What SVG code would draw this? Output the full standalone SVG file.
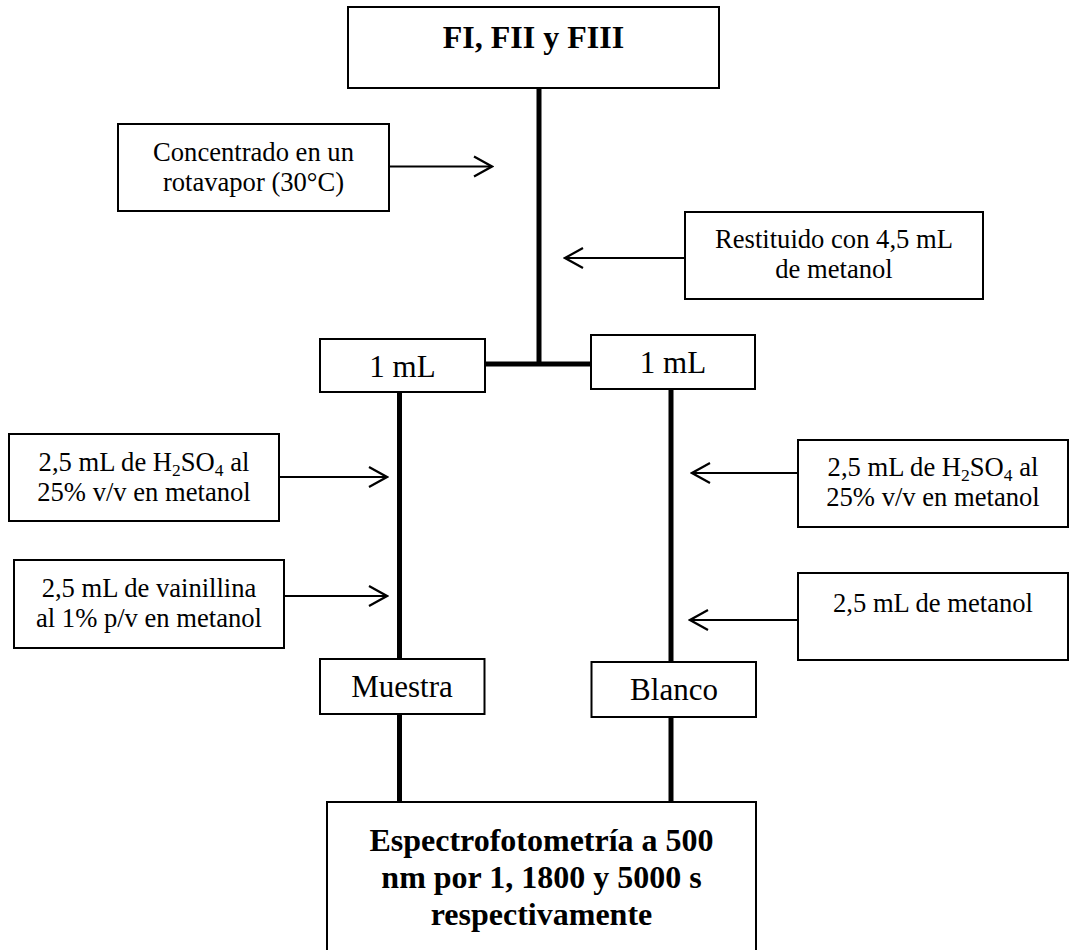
<svg xmlns="http://www.w3.org/2000/svg" width="1071" height="950" viewBox="0 0 1071 950">
<defs>
<marker id="arr" viewBox="0 0 22 24" refX="20" refY="12" markerWidth="22" markerHeight="24" markerUnits="userSpaceOnUse" orient="auto">
<path d="M2,2 L20,12 L2,22" fill="none" stroke="#000" stroke-width="2.2"/>
</marker>
</defs>
<style>
.box{fill:#fff;stroke:#000;stroke-width:2}
.t{font-family:"Liberation Serif","Times New Roman",serif;font-size:26.6px;fill:#000;text-anchor:middle}
.l{font-family:"Liberation Serif","Times New Roman",serif;font-size:31px;fill:#000;text-anchor:middle}
.b{font-family:"Liberation Serif","Times New Roman",serif;font-size:32px;font-weight:bold;fill:#000;text-anchor:middle}
.sub{font-size:17.5px;baseline-shift:-5px}
.thick{stroke:#000;stroke-width:5;fill:none}
.thin{stroke:#000;stroke-width:2;fill:none;marker-end:url(#arr)}
</style>
<rect width="1071" height="950" fill="#fff"/>
<g id="connectors">
<line class="thick" x1="539" y1="88" x2="539" y2="364"/>
<line class="thick" x1="485" y1="364" x2="591" y2="364"/>
<line class="thick" x1="399.5" y1="392" x2="399.5" y2="660"/>
<line class="thick" x1="399.5" y1="714" x2="399.5" y2="803"/>
<line class="thick" x1="671" y1="389" x2="671" y2="663"/>
<line class="thick" x1="671" y1="717" x2="671" y2="803"/>
<line class="thin" x1="389" y1="166.5" x2="492" y2="166.5"/>
<line class="thin" x1="685" y1="258" x2="565" y2="258"/>
<line class="thin" x1="279" y1="477" x2="387" y2="477"/>
<line class="thin" x1="284" y1="596" x2="387" y2="596"/>
<line class="thin" x1="798" y1="473" x2="692" y2="473"/>
<line class="thin" x1="798" y1="620" x2="690" y2="620"/>
</g>
<g id="n-top">
<rect class="box" x="348" y="7" width="371" height="81"/>
<text class="b" x="533.5" y="48">FI, FII y FIII</text>
</g>
<g id="n-concentrado">
<rect class="box" x="118" y="124" width="271" height="87"/>
<text class="t" x="253.5" y="161">Concentrado en un</text>
<text class="t" x="253.5" y="191">rotavapor (30°C)</text>
</g>
<g id="n-restituido">
<rect class="box" x="685" y="212" width="298" height="87"/>
<text class="t" x="834" y="248">Restituido con 4,5 mL</text>
<text class="t" x="834" y="278">de metanol</text>
</g>
<g id="n-1ml-left">
<rect class="box" x="320" y="339" width="165" height="53"/>
<text class="l" x="402.5" y="377">1 mL</text>
</g>
<g id="n-1ml-right">
<rect class="box" x="591" y="335" width="164" height="54"/>
<text class="l" x="673" y="373">1 mL</text>
</g>
<g id="n-h2so4-left">
<rect class="box" x="9" y="434" width="270" height="87"/>
<text class="t" x="144" y="471">2,5 mL de H<tspan class="sub">2</tspan>SO<tspan class="sub">4</tspan> al</text>
<text class="t" x="144" y="501">25%  v/v en metanol</text>
</g>
<g id="n-vainillina">
<rect class="box" x="14" y="560" width="270" height="88"/>
<text class="t" x="149" y="597">2,5 mL de vainillina</text>
<text class="t" x="149" y="627">al 1%  p/v en metanol</text>
</g>
<g id="n-h2so4-right">
<rect class="box" x="798" y="440" width="270" height="87"/>
<text class="t" x="933" y="476">2,5 mL de H<tspan class="sub">2</tspan>SO<tspan class="sub">4</tspan> al</text>
<text class="t" x="933" y="506">25%  v/v en metanol</text>
</g>
<g id="n-metanol">
<rect class="box" x="798" y="573" width="270" height="87"/>
<text class="t" x="933" y="612">2,5 mL de metanol</text>
</g>
<g id="n-muestra">
<rect class="box" x="320" y="659" width="164.5" height="55"/>
<text class="l" x="402" y="697">Muestra</text>
</g>
<g id="n-blanco">
<rect class="box" x="591.5" y="662" width="164.5" height="55"/>
<text class="l" x="674" y="700">Blanco</text>
</g>
<g id="n-espectro">
<rect class="box" x="327" y="802" width="429" height="160"/>
<text class="b" x="541.5" y="851">Espectrofotometría a 500</text>
<text class="b" x="541.5" y="888">nm por 1, 1800 y 5000 s</text>
<text class="b" x="541.5" y="925">respectivamente</text>
</g>
</svg>
